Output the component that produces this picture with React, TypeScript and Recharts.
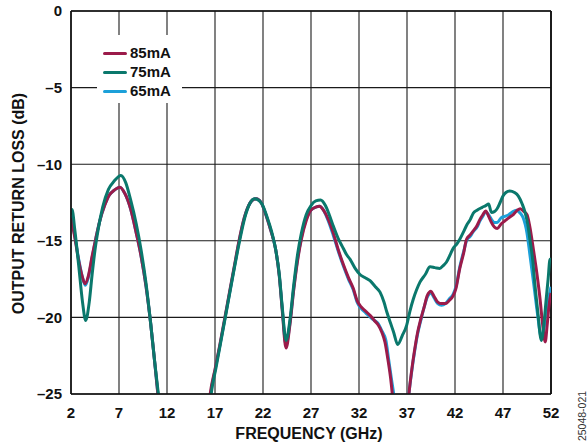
import React from 'react';
import { LineChart, Line, XAxis, YAxis, CartesianGrid, Legend, ReferenceLine } from 'recharts';

const freq85 = [2.0, 2.4, 2.8, 3.2, 3.46, 3.8, 4.2, 4.6, 5.0, 5.5, 6.0, 6.5, 7.1, 7.6, 8.2, 8.8, 9.3, 9.8, 10.3, 10.7, 11.05, 11.6, 16.0, 16.5, 17.0, 17.5, 18.0, 18.5, 19.0, 19.5, 20.0, 20.5, 21.0, 21.3, 21.8, 22.3, 22.8, 23.3, 23.7, 24.0, 24.4, 24.8, 25.2, 25.6, 26.0, 26.5, 27.0, 27.5, 27.9, 28.3, 28.8, 29.3, 29.8, 30.4, 30.9, 31.4, 31.8, 32.2, 32.7, 33.2, 33.6, 34.0, 34.4, 34.7, 35.0, 35.3, 35.5, 35.9, 36.8, 37.2, 37.5, 37.8, 38.1, 38.4, 38.8, 39.1, 39.5, 39.8, 40.2, 40.6, 41.0, 41.4, 41.8, 42.1, 42.5, 42.9, 43.2, 43.6, 43.9, 44.3, 44.6, 44.9, 45.2, 45.5, 45.8, 46.1, 46.4, 46.8, 47.2, 47.6, 48.1, 48.5, 48.8, 49.2, 49.5, 49.8, 50.15, 50.5, 50.86, 51.1, 51.4, 51.6, 51.8, 52.0];
const rl85 = [-13.5, -14.8, -16.3, -17.4, -17.8, -17.3, -16.0, -14.8, -13.7, -12.7, -12.0, -11.7, -11.5, -11.9, -12.9, -14.5, -16.0, -17.9, -20.4, -22.8, -25, -28.5, -28.5, -25, -23.4, -21.8, -20.1, -18.4, -16.7, -15.0, -13.6, -12.7, -12.3, -12.25, -12.5, -13.3, -14.3, -15.5, -17.3, -19.5, -22.0, -20.5, -18.2, -16.3, -14.9, -13.7, -13.0, -12.8, -12.75, -13.0, -13.6, -14.45, -15.5, -16.6, -17.4, -18.1, -18.9, -19.3, -19.6, -19.9, -20.2, -20.5, -21.0, -21.6, -22.7, -24.0, -25.2, -28, -28, -25, -23.4, -22.1, -21.0, -20.2, -19.3, -18.6, -18.3, -18.6, -19.0, -19.1, -19.1, -18.9, -18.6, -18.1, -16.8, -15.8, -14.9, -14.6, -14.35, -14.0, -13.6, -13.3, -13.05, -13.4, -13.8, -14.1, -14.2, -13.9, -13.7, -13.5, -13.27, -13.0, -12.9, -13.1, -13.3, -14.1, -15.5, -17.0, -18.8, -20.3, -21.6, -20.5, -19.2, -18.4];

const freq75 = [2.0, 2.1, 2.4, 2.8, 3.2, 3.53, 3.9, 4.2, 4.5, 4.85, 5.3, 5.9, 6.5, 7.2, 7.7, 8.2, 8.8, 9.3, 9.8, 10.3, 10.7, 11.1, 11.7, 16.1, 16.6, 17.1, 17.6, 18.1, 18.6, 19.1, 19.6, 20.1, 20.6, 21.1, 21.4, 21.9, 22.4, 22.9, 23.3, 23.7, 24.0, 24.4, 24.8, 25.2, 25.6, 26.0, 26.5, 27.0, 27.5, 28.0, 28.5, 28.9, 29.3, 29.8, 30.37, 30.7, 31.06, 31.6, 32.1, 32.6, 33.15, 33.7, 34.19, 34.6, 34.9, 35.3, 35.6, 36.03, 36.5, 36.97, 37.3, 37.66, 38.0, 38.35, 38.9, 39.4, 39.9, 40.4, 40.8, 41.1, 41.5, 41.8, 42.2, 42.5, 42.9, 43.2, 43.6, 43.9, 44.3, 44.8, 45.2, 45.5, 45.8, 46.1, 46.35, 46.7, 47.0, 47.3, 47.7, 48.2, 48.6, 49.0, 49.3, 49.6, 49.8, 50.1, 50.3, 50.6, 51.0, 51.3, 51.5, 51.7, 51.9, 52.0];
const rl75 = [-13.3, -12.95, -14.3, -16.6, -19.0, -20.2, -19.0, -17.2, -15.6, -14.2, -12.8, -11.64, -11.1, -10.73, -11.2, -12.3, -13.9, -15.6, -17.7, -20.4, -22.8, -25, -28.5, -28.5, -25, -23.3, -21.6, -19.9, -18.2, -16.5, -14.9, -13.5, -12.6, -12.25, -12.3, -12.6, -13.4, -14.4, -15.5, -17.2, -19.3, -21.5, -20.2, -17.9, -15.9, -14.5, -13.3, -12.7, -12.4, -12.34, -12.7, -13.3, -14.0, -14.8, -15.5, -15.9, -16.2, -16.8, -17.2, -17.4, -17.6, -18.0, -18.35, -19.0, -19.65, -20.4, -20.95, -21.77, -21.2, -20.5, -19.6, -18.8, -18.2, -17.7, -17.2, -16.7, -16.75, -16.8, -16.6, -16.4, -15.9, -15.5, -15.2, -14.9, -14.4, -14.0, -13.6, -13.2, -13.0, -12.83, -12.7, -12.6, -13.15, -13.1, -12.94, -12.5, -12.08, -11.85, -11.75, -11.85, -12.08, -12.6, -13.15, -14.0, -14.9, -16.3, -17.7, -19.5, -21.5, -20.2, -18.8, -17.5, -16.2, -16.2];

const freq65 = [2.0, 2.4, 2.8, 3.2, 3.5, 3.8, 4.2, 4.6, 5.0, 5.5, 6.0, 6.5, 7.1, 7.6, 8.2, 8.8, 9.3, 9.8, 10.3, 10.7, 11.05, 11.6, 16.0, 16.55, 17.05, 17.55, 18.05, 18.55, 19.05, 19.55, 20.05, 20.5, 21.0, 21.3, 21.8, 22.3, 22.8, 23.3, 23.7, 24.0, 24.4, 24.8, 25.2, 25.6, 26.0, 26.5, 27.0, 27.5, 27.9, 28.3, 28.8, 29.3, 29.8, 30.4, 30.9, 31.4, 31.8, 32.2, 32.7, 33.2, 33.6, 34.0, 34.4, 34.8, 35.1, 35.4, 35.65, 36.0, 36.8, 37.2, 37.5, 37.8, 38.1, 38.4, 38.8, 39.1, 39.5, 39.8, 40.2, 40.6, 41.0, 41.4, 41.8, 42.1, 42.5, 42.9, 43.2, 43.6, 43.9, 44.3, 44.6, 44.9, 45.2, 45.5, 45.8, 46.1, 46.4, 46.8, 47.2, 47.6, 48.0, 48.4, 48.8, 49.1, 49.5, 49.8, 50.2, 50.6, 51.0, 51.2, 51.5, 51.8, 52.0];
const rl65 = [-13.4, -14.7, -16.2, -17.4, -17.9, -17.4, -16.1, -14.8, -13.7, -12.7, -12.0, -11.7, -11.5, -11.9, -12.9, -14.5, -16.0, -17.9, -20.4, -22.8, -25, -28.5, -28.5, -25, -23.3, -21.7, -20.0, -18.3, -16.6, -14.9, -13.5, -12.7, -12.3, -12.25, -12.5, -13.3, -14.3, -15.5, -17.3, -19.4, -21.8, -20.4, -18.1, -16.2, -14.8, -13.6, -13.0, -12.8, -12.75, -13.0, -13.7, -14.6, -15.6, -16.7, -17.5, -18.2, -19.0, -19.4, -19.7, -20.0, -20.2, -20.4, -20.9, -21.5, -22.8, -24.1, -25.2, -28, -28, -25, -23.5, -22.2, -21.1, -20.3, -19.3, -18.7, -18.4, -18.7, -19.1, -19.2, -19.1, -18.8, -18.5, -18.0, -16.7, -15.7, -15.0, -14.7, -14.4, -14.1, -13.7, -13.4, -13.1, -13.3, -13.6, -13.8, -13.8, -13.5, -13.4, -13.3, -13.1, -13.0, -13.2, -13.5, -14.5, -15.9, -17.8, -19.8, -21.3, -21.0, -19.6, -18.6, -18.0];

const xTicks = [2, 7, 12, 17, 22, 27, 32, 37, 42, 47, 52];
const yTicks = [-25, -20, -15, -10, -5, 0];

const seriesNames = ['85mA', '75mA', '65mA'];
const seriesColors = ['#9B1B4A', '#0A786C', '#1CA0D9'];

const toData = (xs: number[], ys: number[]) => xs.map((x, i) => ({ x, y: ys[i] }));
const data85 = toData(freq85, rl85);
const data75 = toData(freq75, rl75);
const data65 = toData(freq65, rl65);

const FONT = '"Liberation Sans", Arial, sans-serif';

const fmtY = (v: number) => (v < 0 ? '\u2013' + Math.abs(v) : String(v));

const LegendBox = () => (
  <div style={{ background: '#fff', width: 85, height: 68, position: 'relative', fontFamily: FONT }}>
    {seriesNames.map((n, i) => (
      <div key={n} style={{ position: 'absolute', left: 0, top: 18 + i * 19 - 9, height: 18, width: 85 }}>
        <div style={{ position: 'absolute', left: 6, top: 8, width: 24, height: 3, borderRadius: 1.5, background: seriesColors[i] }} />
        <div style={{ position: 'absolute', left: 33, top: 0, lineHeight: '18px', fontSize: 15, fontWeight: 700, color: '#111' }}>{n}</div>
      </div>
    ))}
  </div>
);

const YTitle = (props: any) => {
  const vb = props.viewBox || { x: 0, y: 0, width: 0, height: 0 };
  const cy = vb.y + vb.height / 2 + 1;
  const cx = 18;
  return (
    <text x={cx} y={cy} transform={`rotate(-90 ${cx} ${cy})`} textAnchor="middle" dominantBaseline="central" fontFamily={FONT} fontWeight={700} fontSize={16} fill="#111">
      OUTPUT RETURN LOSS (dB)
    </text>
  );
};

const XTitle = (props: any) => {
  const vb = props.viewBox || { x: 0, y: 0, width: 0, height: 0 };
  const cx = vb.x + vb.width / 2 - 2;
  return (
    <g>
      <text x={cx} y={433} textAnchor="middle" dominantBaseline="central" fontFamily={FONT} fontWeight={700} fontSize={16} fill="#111">
        FREQUENCY (GHz)
      </text>
      <text x={582} y={416} transform="rotate(-90 582 416)" textAnchor="middle" dominantBaseline="central" fontFamily={FONT} fontSize={10.5} fill="#333">
        25048-021
      </text>
    </g>
  );
};

export default function App() {
  return (
    <div style={{ position: 'absolute', left: 0, top: 0, width: 588, height: 448, background: '#fff' }}>
      <LineChart width={588} height={448} data={data85} margin={{ top: 11, right: 37, bottom: 24, left: 21 }}>
        <CartesianGrid stroke="#1a1a1a" strokeWidth={1.1} vertical horizontal />
        <XAxis
          type="number"
          dataKey="x"
          domain={[2, 52]}
          ticks={xTicks}
          interval={0}
          allowDataOverflow
          height={30}
          tickLine={false}
          tickSize={6}
          tickMargin={7}
          axisLine={{ stroke: '#111', strokeWidth: 1.6 }}
          tick={{ fontFamily: FONT, fontWeight: 700, fontSize: 15, fill: '#111' }}
          label={{ content: XTitle }}
        />
        <YAxis
          type="number"
          domain={[-25, 0]}
          ticks={yTicks}
          interval={0}
          allowDataOverflow
          width={50}
          tickLine={false}
          tickSize={6}
          tickMargin={3}
          tickFormatter={fmtY}
          axisLine={{ stroke: '#111', strokeWidth: 1.6 }}
          tick={{ fontFamily: FONT, fontWeight: 700, fontSize: 15, fill: '#111' }}
          label={{ content: YTitle }}
        />
        <ReferenceLine x={52} stroke="#111" strokeWidth={1.8} />
        <ReferenceLine y={0} stroke="#111" strokeWidth={1.4} />
        <Line data={data65} dataKey="y" type="monotone" stroke={seriesColors[2]} strokeWidth={3} dot={false} isAnimationActive={false} name="65mA" />
        <Line data={data85} dataKey="y" type="monotone" stroke={seriesColors[0]} strokeWidth={3} dot={false} isAnimationActive={false} name="85mA" />
        <Line data={data75} dataKey="y" type="monotone" stroke={seriesColors[1]} strokeWidth={3} dot={false} isAnimationActive={false} name="75mA" />
        <Legend
          layout="vertical"
          align="center"
          verticalAlign="middle"
          content={() => <LegendBox />}
          wrapperStyle={{ left: 97, top: 35, width: 85, height: 68 }}
        />
      </LineChart>
    </div>
  );
}
